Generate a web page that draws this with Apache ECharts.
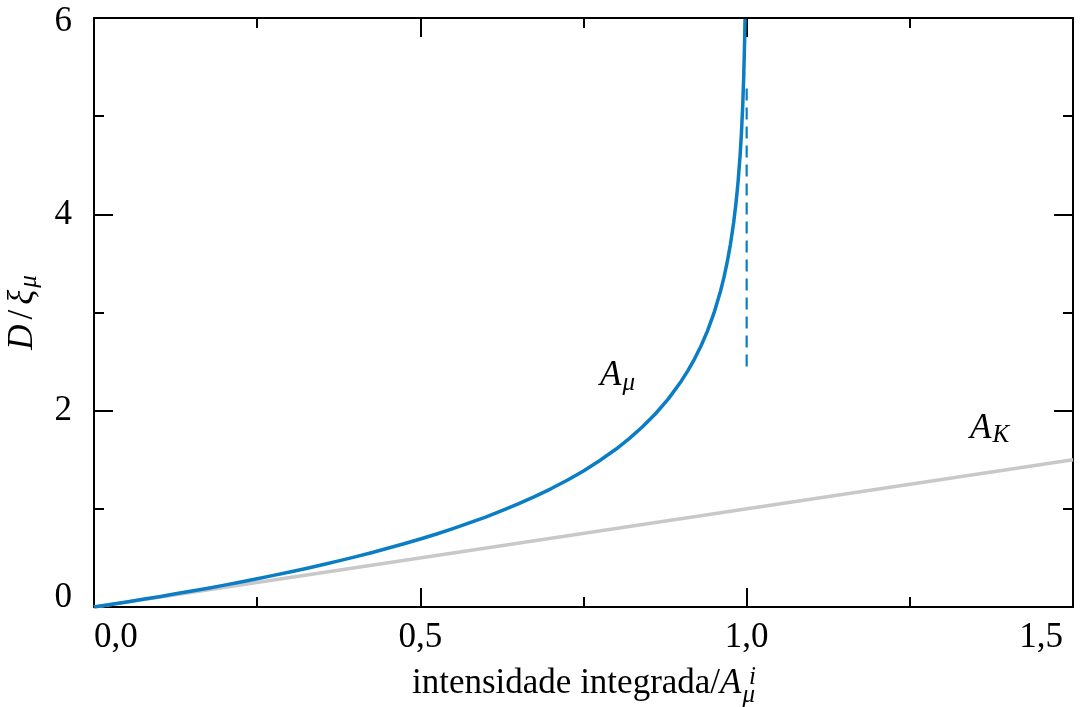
<!DOCTYPE html>
<html>
<head>
<meta charset="utf-8">
<script src="https://cdn.jsdelivr.net/npm/echarts@6/dist/echarts.min.js"></script>
<style>
  html, body { margin: 0; padding: 0; background: #fff; }
  #chart { width: 1082px; height: 707px; }
</style>
</head>
<body>
<div id="chart"></div>
<script>
// Abscissa: integrated intensity normalised by A_mu^i
const xMuValues = [0, 0.025, 0.05, 0.075, 0.10, 0.125, 0.15, 0.175, 0.20, 0.225, 0.25, 0.275,
  0.30, 0.325, 0.35, 0.375, 0.40, 0.425, 0.45, 0.475, 0.50, 0.525, 0.55, 0.575, 0.60, 0.625,
  0.65, 0.675, 0.70, 0.725, 0.75, 0.775, 0.80, 0.82, 0.84, 0.86, 0.88, 0.90, 0.91, 0.92, 0.93,
  0.94, 0.95, 0.96, 0.965, 0.97, 0.975, 0.98, 0.984, 0.987, 0.99, 0.992, 0.994, 0.9955, 0.997,
  0.9975];
// D / xi_mu along the A_mu curve
const dMuValues = [0, 0.025, 0.051, 0.078, 0.105, 0.134, 0.163, 0.192, 0.223, 0.255, 0.288, 0.322,
  0.357, 0.393, 0.431, 0.470, 0.511, 0.553, 0.598, 0.644, 0.693, 0.744, 0.799, 0.856, 0.916, 0.981,
  1.050, 1.124, 1.204, 1.291, 1.386, 1.492, 1.609, 1.715, 1.833, 1.966, 2.120, 2.303, 2.408, 2.526,
  2.659, 2.813, 2.996, 3.219, 3.352, 3.507, 3.689, 3.912, 4.135, 4.343, 4.605, 4.828, 5.116, 5.404,
  5.809, 5.99];
// A_K reference line
const xKValues = [0, 1.5];
const dKValues = [0, 1.5];
// vertical dashed asymptote marker
const xAsym = [1.0, 1.0];
const dAsym = [2.45, 5.30];

const xTickLabels = { 0: '0,0', 0.5: '0,5', 1: '1,0', 1.5: '1,5' };
const yTickLabels = { 0: '0', 2: '2', 4: '4', 6: '6' };

const zip = (a, b) => a.map((v, i) => [v, b[i]]);

const FONT = '"Liberation Serif", "Times New Roman", serif';
const FS = 35;
const SUB = 25;
const BLUE = '#0a7dc4';
const GREY = '#c8c8c8';

const chart = echarts.init(document.getElementById('chart'), null, { renderer: 'canvas' });

const tickCommon = {
  axisLine: { show: true, onZero: false, lineStyle: { color: '#000', width: 2 } },
  axisTick: { show: true, inside: true, length: 19, lineStyle: { color: '#000', width: 2 } },
  minorTick: { show: true, splitNumber: 2, length: 10, lineStyle: { color: '#000', width: 2 } },
  splitLine: { show: false },
  minorSplitLine: { show: false }
};

const italic = { fontFamily: FONT, fontSize: FS, fontStyle: 'italic', color: '#000' };
const upright = { fontFamily: FONT, fontSize: FS, color: '#000' };

chart.setOption({
  animation: false,
  backgroundColor: '#fff',
  grid: { left: 94, right: 9, top: 18, bottom: 100, containLabel: false, outerBoundsMode: 'none' },
  xAxis: [
    Object.assign({
      type: 'value', min: 0, max: 1.5, interval: 0.5, position: 'bottom',
      name: '{n|intensidade integrada/}{it|A}{sub|μ}',
      nameLocation: 'middle', nameGap: 52,
      nameTextStyle: {
        fontFamily: FONT, fontSize: FS, color: '#000',
        rich: {
          n: upright,
          it: italic,
          sub: { fontFamily: FONT, fontSize: SUB, fontStyle: 'italic', color: '#000', padding: [24, 0, 0, 1] }
        }
      },
      axisLabel: {
        show: true, margin: 13, color: '#000', fontFamily: FONT, fontSize: FS,
        alignMinLabel: 'left', alignMaxLabel: 'right',
        formatter: v => {
          if (v === 1.5) return '{hi|' + xTickLabels[v] + '}';
          return xTickLabels[v] !== undefined ? xTickLabels[v] : '';
        },
        rich: { hi: { fontFamily: FONT, fontSize: FS, color: '#000', padding: [0, 10, 0, 0] } }
      }
    }, tickCommon),
    Object.assign({
      type: 'value', min: 0, max: 1.5, interval: 0.5, position: 'top',
      axisLabel: { show: false }
    }, tickCommon)
  ],
  yAxis: [
    Object.assign({
      type: 'value', min: 0, max: 6, interval: 2, position: 'left',
      name: '{it|D}{n|/}{it|ξ}{sub|μ}',
      nameLocation: 'middle', nameGap: 52, nameRotate: 90,
      nameTextStyle: {
        fontFamily: FONT, fontSize: FS, color: '#000',
        rich: {
          n: Object.assign({}, upright, { padding: [0, 5, 0, 5] }),
          it: italic,
          sub: { fontFamily: FONT, fontSize: SUB, fontStyle: 'italic', color: '#000', padding: [14, 0, 0, 2] }
        }
      },
      axisLabel: {
        show: true, margin: 22, color: '#000', fontFamily: FONT, fontSize: FS,
        formatter: v => {
          if (v === 0) return '{lo|0}';
          if (v === 6) return '{hi|6}';
          return yTickLabels[v] !== undefined ? yTickLabels[v] : '';
        },
        rich: {
          lo: { fontFamily: FONT, fontSize: FS, color: '#000', padding: [0, 0, 18, 0] },
          hi: { fontFamily: FONT, fontSize: FS, color: '#000', padding: [8, 0, 0, 0] }
        }
      }
    }, tickCommon),
    Object.assign({
      type: 'value', min: 0, max: 6, interval: 2, position: 'right',
      axisLabel: { show: false }
    }, tickCommon)
  ],
  series: [
    {
      name: 'A_K', type: 'line', data: zip(xKValues, dKValues),
      showSymbol: false, symbol: 'none', clip: true,
      lineStyle: { color: GREY, width: 3.5 }, z: 2
    },
    {
      name: 'A_mu', type: 'line', data: zip(xMuValues, dMuValues),
      showSymbol: false, symbol: 'none', smooth: false, clip: true,
      lineStyle: { color: BLUE, width: 3.5, join: 'round' }, z: 3
    },
    {
      name: 'assintota', type: 'line', data: zip(xAsym, dAsym),
      showSymbol: false, symbol: 'none',
      lineStyle: { color: BLUE, width: 2.2, type: [12, 7] }, z: 3
    }
  ],
  graphic: [
    {
      type: 'text', left: 600, top: 358, z: 10,
      style: {
        text: '{it|A}{sub|μ}',
        rich: {
          it: { fontFamily: FONT, fontSize: FS, fontStyle: 'italic', fill: '#000' },
          sub: { fontFamily: FONT, fontSize: SUB, fontStyle: 'italic', fill: '#000', padding: [16, 0, 0, 1] }
        }
      }
    },
    {
      type: 'text', left: 970, top: 411, z: 10,
      style: {
        text: '{it|A}{sub|K}',
        rich: {
          it: { fontFamily: FONT, fontSize: FS, fontStyle: 'italic', fill: '#000' },
          sub: { fontFamily: FONT, fontSize: SUB, fontStyle: 'italic', fill: '#000', padding: [14, 0, 0, 1] }
        }
      }
    },
    {
      type: 'text', left: 749, top: 665, z: 10,
      style: { text: 'i', fontFamily: FONT, fontSize: SUB, fontStyle: 'italic', fill: '#000' }
    }
  ]
});
</script>
</body>
</html>
